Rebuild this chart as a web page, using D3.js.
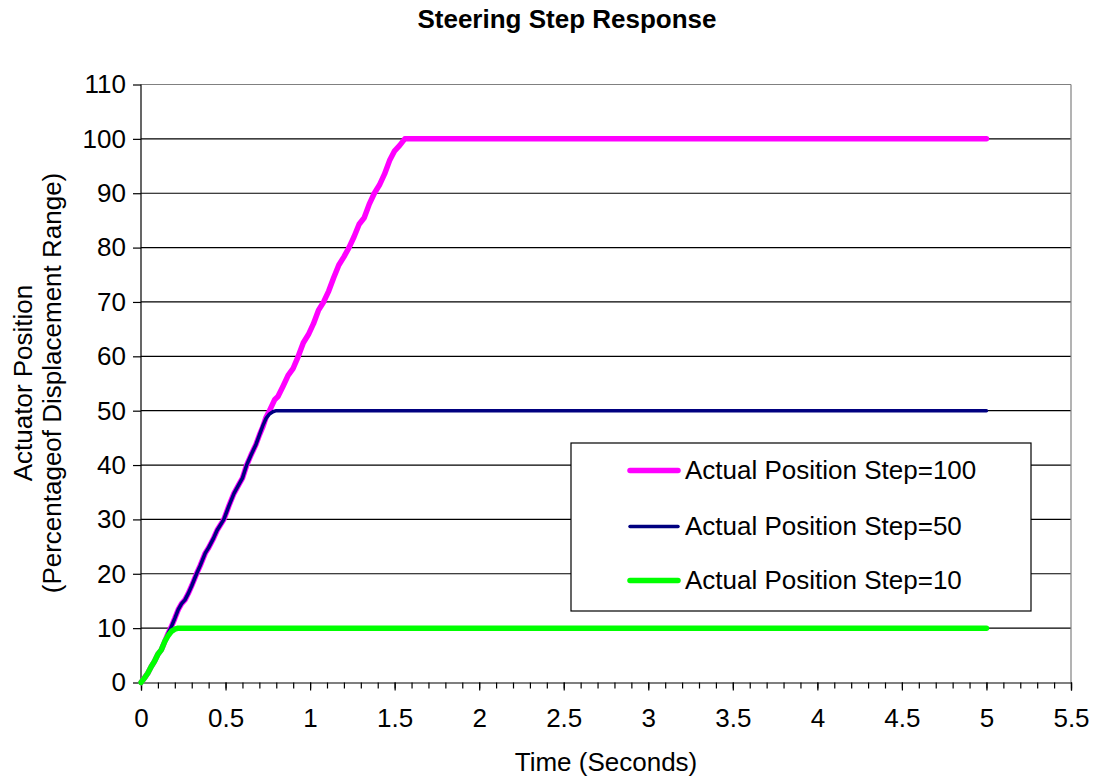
<!DOCTYPE html>
<html>
<head>
<meta charset="utf-8">
<script src="https://d3js.org/d3.v7.min.js"></script>
<style>
  body { margin: 0; background: #fff; }
  svg { display: block; font-family: "Liberation Sans", Arial, sans-serif; }
</style>
</head>
<body>
<svg id="chart" width="1093" height="779"></svg>
<script>
// ---- Data ----
const title = "Steering Step Response";
const xTitle = "Time (Seconds)";
const yTitle1 = "Actuator Position";
const yTitle2 = "(Percentageof Displacement Range)";
const xTicks = [0, 0.5, 1, 1.5, 2, 2.5, 3, 3.5, 4, 4.5, 5, 5.5];
const yTicks = [0, 10, 20, 30, 40, 50, 60, 70, 80, 90, 100, 110];
const seriesNames = ["Actual Position Step=100", "Actual Position Step=50", "Actual Position Step=10"];

const time100 = [0, 0.02, 0.04, 0.06, 0.08, 0.1, 0.12, 0.14, 0.16, 0.18, 0.2, 0.22, 0.24, 0.26, 0.28, 0.3, 0.33, 0.35, 0.38, 0.4, 0.43, 0.45, 0.49, 0.52, 0.55, 0.58, 0.6, 0.625, 0.65, 0.68, 0.7, 0.72, 0.74, 0.76, 0.79, 0.81, 0.84, 0.87, 0.9, 0.93, 0.96, 0.99, 1.02, 1.05, 1.08, 1.11, 1.14, 1.17, 1.2, 1.23, 1.26, 1.29, 1.32, 1.35, 1.38, 1.41, 1.44, 1.47, 1.5, 1.53, 1.56, 1.6, 5];
const step100 = [0, 0.8, 1.7, 2.9, 3.9, 5.2, 6.0, 7.5, 9.0, 10.3, 11.8, 13.4, 14.5, 15.2, 16.4, 17.8, 20.1, 21.5, 23.8, 24.8, 26.6, 28.0, 30.0, 32.5, 34.8, 36.5, 37.6, 40.0, 41.8, 43.8, 45.5, 47.0, 48.8, 50.0, 52.0, 52.6, 54.5, 56.5, 57.8, 60.0, 62.5, 64.0, 66.0, 68.5, 70.0, 72.0, 74.5, 76.8, 78.3, 80.0, 82.0, 84.3, 85.5, 88.0, 90.0, 91.5, 93.5, 96.0, 97.8, 98.8, 100, 100, 100];

const time50 = [0, 0.02, 0.04, 0.06, 0.08, 0.1, 0.12, 0.14, 0.16, 0.18, 0.2, 0.22, 0.24, 0.26, 0.28, 0.3, 0.33, 0.35, 0.38, 0.4, 0.43, 0.45, 0.49, 0.52, 0.55, 0.58, 0.6, 0.625, 0.65, 0.68, 0.7, 0.72, 0.74, 0.76, 0.78, 0.8, 0.83, 5];
const step50 = [0, 0.8, 1.7, 2.9, 3.9, 5.2, 6.0, 7.5, 9.0, 10.3, 11.8, 13.4, 14.5, 15.2, 16.4, 17.8, 20.1, 21.5, 23.8, 24.8, 26.6, 28.0, 30.0, 32.5, 34.8, 36.5, 37.6, 40.0, 41.8, 43.8, 45.5, 47.2, 48.6, 49.4, 49.8, 50.0, 50.0, 50.0];

const time10 = [0, 0.02, 0.04, 0.06, 0.08, 0.1, 0.12, 0.14, 0.16, 0.18, 0.2, 0.22, 0.25, 5];
const step10 = [0, 0.8, 1.7, 2.9, 3.9, 5.2, 6.0, 7.5, 8.6, 9.4, 9.8, 10.0, 10.0, 10.0];

const colors = ["#ff00ff", "#000080", "#00ff00"];
const widths = [5.5, 3.5, 5.5];

// ---- Layout ----
const svg = d3.select("#chart");
const L = 141, R = 1071, T = 84.5, B = 682.5;
const FS = 26;
const x = d3.scaleLinear().domain([0, 5.5]).range([L, R]);
const y = d3.scaleLinear().domain([0, 110]).range([B, T]);

// Gridlines
svg.append("g").selectAll("line").data(yTicks.filter(d => d > 0)).join("line")
  .attr("x1", L).attr("x2", R)
  .attr("y1", d => y(d)).attr("y2", d => y(d))
  .attr("stroke", d => d === 110 ? "#808080" : "#000").attr("stroke-width", 1.2);
// right border
svg.append("line").attr("x1", R).attr("x2", R).attr("y1", T).attr("y2", B)
  .attr("stroke", "#808080").attr("stroke-width", 1.2);

// Axes
const yAxis = d3.axisLeft(y).tickValues(yTicks).tickSize(8).tickPadding(7).tickFormat(d3.format("d"));
const gy = svg.append("g").attr("transform", `translate(${L},0)`).call(yAxis);
const minorX = d3.range(0, 56).map(i => i / 10);
const xAxisMinor = d3.axisBottom(x).tickValues(minorX).tickSize(6).tickFormat("");
const gxm = svg.append("g").attr("transform", `translate(0,${B})`).call(xAxisMinor);
const xAxis = d3.axisBottom(x).tickValues(xTicks).tickSize(8).tickPadding(18).tickFormat(d => d3.format("")(d));
const gx = svg.append("g").attr("transform", `translate(0,${B})`).call(xAxis);
[gy, gx, gxm].forEach(g => {
  g.selectAll("path.domain").attr("stroke", "#000").attr("stroke-width", 1.2);
  g.selectAll(".tick line").attr("stroke", "#000").attr("stroke-width", 1.2);
  g.selectAll("text").attr("font-size", FS).attr("fill", "#000").attr("font-family", "Liberation Sans, Arial, sans-serif");
});
gy.select("path.domain").attr("d", `M0,${B}V${T}`);
gxm.select("path.domain").remove();

// Lines
const lineGen = d3.line().x(d => x(d[0])).y(d => y(d[1]));
const seriesData = [
  d3.zip(time100, step100),
  d3.zip(time50, step50),
  d3.zip(time10, step10)
];
seriesData.forEach((s, i) => {
  svg.append("path").datum(s).attr("d", lineGen)
    .attr("fill", "none").attr("stroke", colors[i]).attr("stroke-width", widths[i])
    .attr("stroke-linejoin", "round").attr("stroke-linecap", "round");
});

// Legend
const lg = svg.append("g");
lg.append("rect").attr("x", 571).attr("y", 443).attr("width", 460).attr("height", 168)
  .attr("fill", "#fff").attr("stroke", "#000").attr("stroke-width", 1.2);
const rowsY = [470.5, 526.5, 580.5];
seriesNames.forEach((n, i) => {
  lg.append("line").attr("x1", 630).attr("x2", 678).attr("y1", rowsY[i]).attr("y2", rowsY[i])
    .attr("stroke", colors[i]).attr("stroke-width", widths[i]).attr("stroke-linecap", "round");
  lg.append("text").attr("x", 685).attr("y", rowsY[i] + 8).attr("font-size", FS).text(n);
});

// Titles
svg.append("text").attr("x", 567).attr("y", 28).attr("text-anchor", "middle")
  .attr("font-size", FS).attr("font-weight", "bold").text(title);
svg.append("text").attr("x", 606).attr("y", 771).attr("text-anchor", "middle")
  .attr("font-size", FS).text(xTitle);
svg.append("text").attr("transform", "translate(32,383) rotate(-90)").attr("text-anchor", "middle")
  .attr("font-size", FS).text(yTitle1);
svg.append("text").attr("transform", "translate(61,383) rotate(-90)").attr("text-anchor", "middle")
  .attr("font-size", FS).text(yTitle2);
</script>
</body>
</html>
